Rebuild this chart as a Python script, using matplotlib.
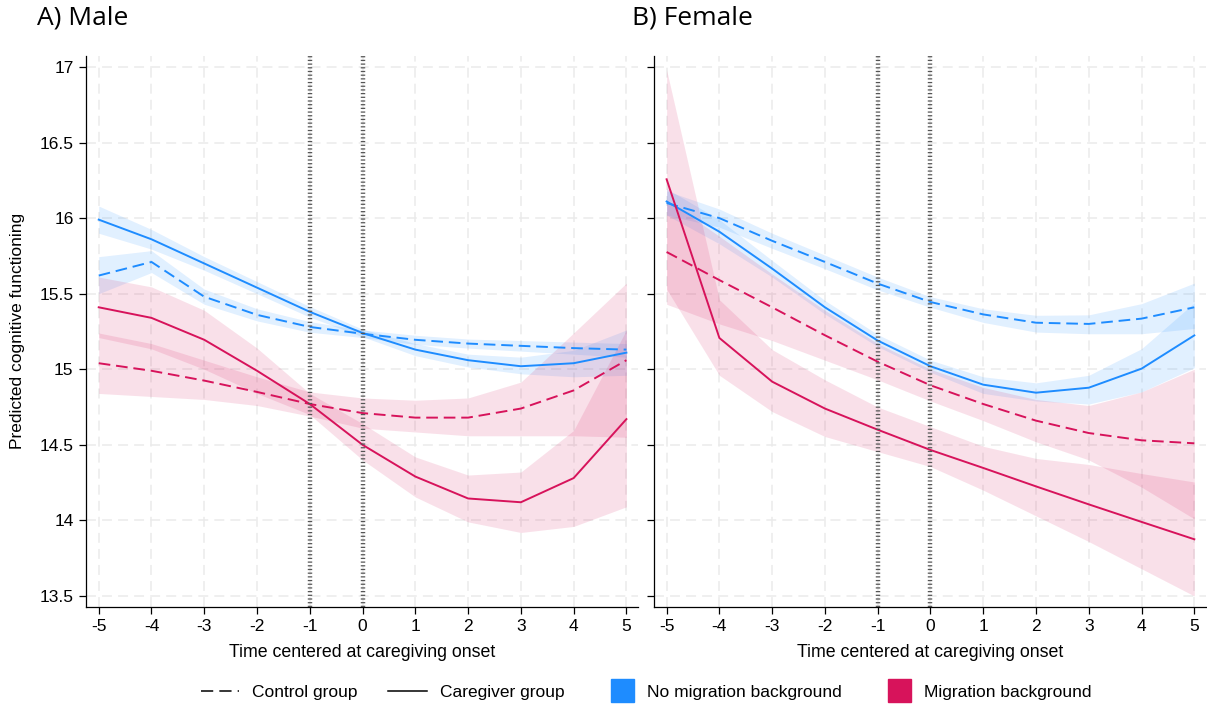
import matplotlib
matplotlib.use('Agg')
import matplotlib.pyplot as plt
import matplotlib.patches as mpatches
from matplotlib.lines import Line2D
from matplotlib.legend_handler import HandlerPatch

# time relative to caregiving onset
years = [-5, -4, -3, -2, -1, 0, 1, 2, 3, 4, 5]

# A) Male
male_ctrl_nomig = [15.62, 15.71, 15.48, 15.36, 15.28, 15.235, 15.195, 15.17, 15.155, 15.14, 15.13]
male_ctrl_nomig_lo = [15.50, 15.64, 15.43, 15.32, 15.245, 15.21, 15.165, 15.14, 15.12, 15.10, 15.08]
male_ctrl_nomig_hi = [15.745, 15.785, 15.53, 15.40, 15.315, 15.26, 15.225, 15.20, 15.19, 15.18, 15.17]

male_care_nomig = [15.99, 15.86, 15.70, 15.54, 15.38, 15.24, 15.13, 15.06, 15.02, 15.04, 15.11]
male_care_nomig_lo = [15.90, 15.795, 15.655, 15.50, 15.345, 15.215, 15.09, 15.015, 14.97, 14.95, 14.96]
male_care_nomig_hi = [16.08, 15.925, 15.745, 15.58, 15.415, 15.265, 15.17, 15.10, 15.08, 15.125, 15.26]

male_ctrl_mig = [15.04, 14.99, 14.925, 14.85, 14.77, 14.71, 14.68, 14.68, 14.74, 14.86, 15.06]
male_ctrl_mig_lo = [14.84, 14.82, 14.80, 14.76, 14.69, 14.61, 14.585, 14.56, 14.56, 14.56, 14.55]
male_ctrl_mig_hi = [15.24, 15.17, 15.06, 14.95, 14.85, 14.81, 14.795, 14.81, 14.915, 15.24, 15.57]

male_care_mig = [15.41, 15.34, 15.195, 14.99, 14.77, 14.50, 14.29, 14.145, 14.12, 14.28, 14.67]
male_care_mig_lo = [15.21, 15.135, 15.0, 14.84, 14.70, 14.40, 14.155, 13.99, 13.92, 13.96, 14.09]
male_care_mig_hi = [15.61, 15.545, 15.39, 15.14, 14.84, 14.64, 14.42, 14.30, 14.32, 14.595, 15.26]

# B) Female
fem_ctrl_nomig = [16.10, 16.00, 15.85, 15.71, 15.567, 15.445, 15.363, 15.308, 15.30, 15.335, 15.41]
fem_ctrl_nomig_lo = [16.02, 15.94, 15.80, 15.665, 15.525, 15.41, 15.31, 15.246, 15.235, 15.235, 15.27]
fem_ctrl_nomig_hi = [16.18, 16.06, 15.90, 15.755, 15.61, 15.48, 15.40, 15.357, 15.36, 15.434, 15.57]

fem_care_nomig = [16.11, 15.91, 15.666, 15.41, 15.19, 15.02, 14.898, 14.845, 14.878, 15.004, 15.224]
fem_care_nomig_lo = [16.02, 15.83, 15.61, 15.365, 15.15, 14.98, 14.84, 14.79, 14.77, 14.85, 15.01]
fem_care_nomig_hi = [16.195, 15.99, 15.72, 15.455, 15.23, 15.06, 14.95, 14.91, 14.96, 15.136, 15.44]

fem_ctrl_mig = [15.776, 15.59, 15.41, 15.225, 15.05, 14.894, 14.77, 14.66, 14.578, 14.53, 14.51]
fem_ctrl_mig_lo = [15.43, 15.30, 15.19, 15.06, 14.93, 14.79, 14.66, 14.52, 14.40, 14.22, 14.01]
fem_ctrl_mig_hi = [16.12, 15.88, 15.63, 15.39, 15.17, 15.0, 14.88, 14.80, 14.76, 14.85, 15.0]

fem_care_mig = [16.257, 15.207, 14.918, 14.74, 14.60, 14.466, 14.347, 14.225, 14.106, 13.99, 13.875]
fem_care_mig_lo = [15.53, 14.96, 14.72, 14.555, 14.455, 14.356, 14.20, 14.03, 13.86, 13.68, 13.50]
fem_care_mig_hi = [16.98, 15.46, 15.13, 14.93, 14.75, 14.62, 14.49, 14.41, 14.37, 14.31, 14.254]

yticks = [13.5, 14, 14.5, 15, 15.5, 16, 16.5, 17]
ytick_labels = ['13.5', '14', '14.5', '15', '15.5', '16', '16.5', '17']

BLUE = '#1e8cff'
RED = '#d7135b'
DASH = (0, (6, 3))

plt.rcParams['font.family'] = ['Liberation Sans', 'DejaVu Sans']

fig = plt.figure(figsize=(12.07, 7.04), dpi=100)
ax1 = fig.add_axes([0.0713, 0.1378, 0.4573, 0.7827])
ax2 = fig.add_axes([0.5418, 0.1378, 0.4573, 0.7827])


def draw_panel(ax, series, show_labels):
    for vals, lo, hi, color, ls in series:
        ax.fill_between(years, lo, hi, color=color, alpha=0.13, lw=0, zorder=2)
    for vals, lo, hi, color, ls in series:
        ax.plot(years, vals, color=color, lw=1.4, linestyle=ls, zorder=4)
    for xv in (-1, 0):
        ax.axvline(xv, color='#555555', lw=3.2, linestyle=(0, (0.28, 0.55)), zorder=5)
    ax.set_xlim(-5.24, 5.22)
    ax.set_ylim(13.427, 17.073)
    ax.set_xticks(years)
    ax.set_xticklabels([str(v) for v in years])
    ax.set_yticks(yticks)
    if show_labels:
        ax.set_yticklabels(ytick_labels)
    else:
        ax.set_yticklabels([])
    ax.grid(True, color='#ebebeb', lw=1.1, linestyle=(0, (6.5, 4)), zorder=0)
    ax.set_axisbelow(True)
    for s in ('top', 'right'):
        ax.spines[s].set_visible(False)
    for s in ('left', 'bottom'):
        ax.spines[s].set_linewidth(0.9)
    ax.tick_params(length=5, width=0.9, labelsize=12.5, pad=4)
    ax.set_xlabel('Time centered at caregiving onset', fontsize=12.8, labelpad=7)


draw_panel(ax1, [
    (male_ctrl_nomig, male_ctrl_nomig_lo, male_ctrl_nomig_hi, BLUE, DASH),
    (male_care_nomig, male_care_nomig_lo, male_care_nomig_hi, BLUE, '-'),
    (male_ctrl_mig, male_ctrl_mig_lo, male_ctrl_mig_hi, RED, DASH),
    (male_care_mig, male_care_mig_lo, male_care_mig_hi, RED, '-'),
], True)

draw_panel(ax2, [
    (fem_ctrl_nomig, fem_ctrl_nomig_lo, fem_ctrl_nomig_hi, BLUE, DASH),
    (fem_care_nomig, fem_care_nomig_lo, fem_care_nomig_hi, BLUE, '-'),
    (fem_ctrl_mig, fem_ctrl_mig_lo, fem_ctrl_mig_hi, RED, DASH),
    (fem_care_mig, fem_care_mig_lo, fem_care_mig_hi, RED, '-'),
], False)

fig.text(18 / 1207, 1 - 331 / 704, 'Predicted cognitive functioning', rotation=90,
         ha='center', va='center', fontsize=12.5)

fig.text(37 / 1207, 1 - 18 / 704, 'A) Male', fontsize=19, family='Open Sans', va='center')
fig.text(632 / 1207, 1 - 18 / 704, 'B) Female', fontsize=19, family='Open Sans', va='center')


def square_patch(legend, orig_handle, xdescent, ydescent, width, height, fontsize):
    side = height * 1.9
    return mpatches.Rectangle((-xdescent + width - side, -ydescent + height / 2 - side / 2),
                              side, side)


handles = [
    Line2D([], [], color='black', lw=1.1, linestyle=(0, (8, 4))),
    Line2D([], [], color='black', lw=1.1),
    mpatches.Patch(color=BLUE),
    mpatches.Patch(color=RED),
]
labels = ['Control group', 'Caregiver group', 'No migration background', 'Migration background']
fig.legend(handles, labels, loc='center', bbox_to_anchor=(646 / 1207, 1 - 692 / 704), ncol=4,
           frameon=False, fontsize=12.5, handlelength=2.2, handletextpad=0.75,
           columnspacing=1.8,
           handler_map={mpatches.Patch: HandlerPatch(patch_func=square_patch)})

fig.savefig('out.png', dpi=100)
